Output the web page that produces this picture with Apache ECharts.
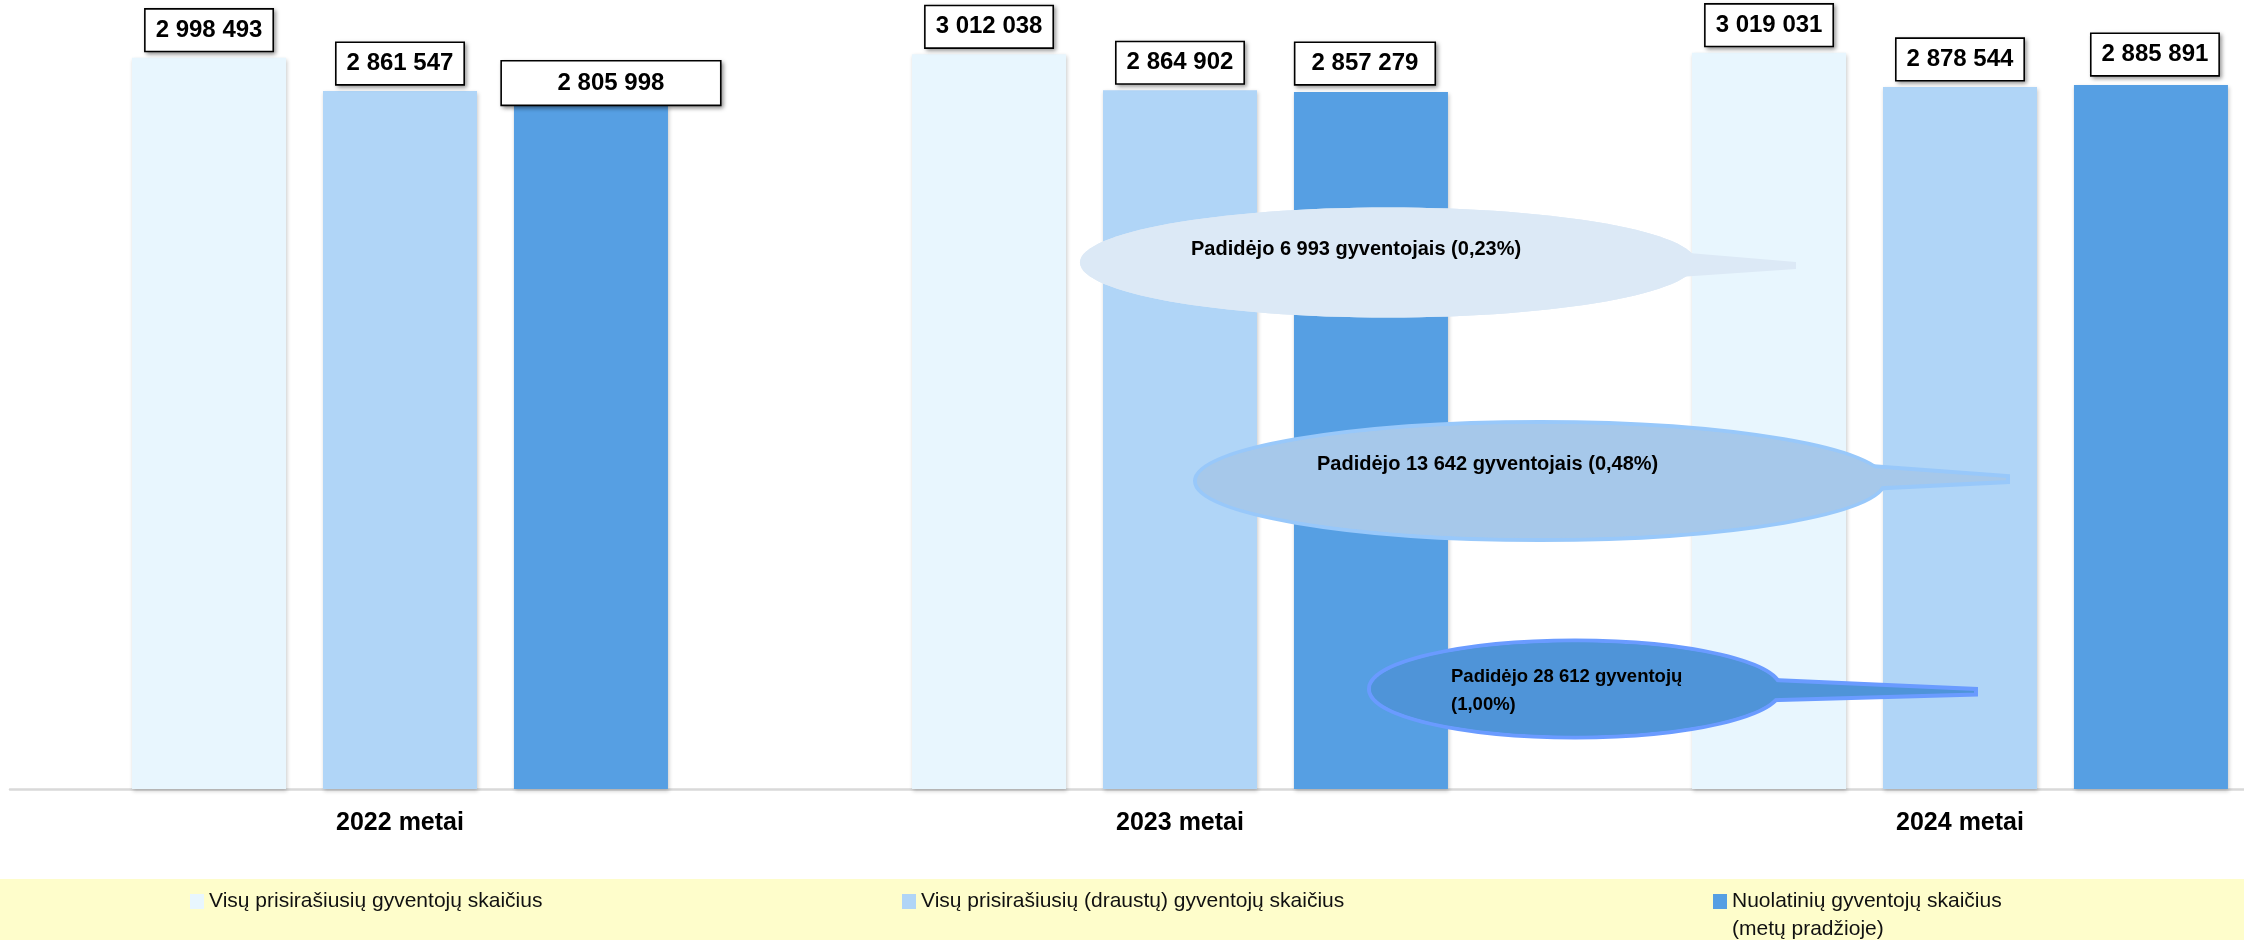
<!DOCTYPE html>
<html>
<head>
<meta charset="utf-8">
<script src="https://cdn.jsdelivr.net/npm/echarts@6/dist/echarts.min.js"></script>
<style>
  html, body { margin: 0; padding: 0; background: #ffffff; }
  #chart { width: 2244px; height: 940px; }
</style>
</head>
<body>
<div id="chart"></div>
<script>
// ---- data ----
const categories = ['2022 metai', '2023 metai', '2024 metai'];
const seriesNames = [
  'Visų prisirašiusių gyventojų skaičius',
  'Visų prisirašiusių (draustų) gyventojų skaičius',
  'Nuolatinių gyventojų skaičius'
];
const allRegistered = [2998493, 3012038, 3019031];
const insuredRegistered = [2861547, 2864902, 2878544];
const permanentResidents = [2805998, 2857279, 2885891];
const legendSecondLine = '(metų pradžioje)';
const calloutTexts = [
  'Padidėjo 6 993 gyventojais (0,23%)',
  'Padidėjo 13 642 gyventojais (0,48%)',
  'Padidėjo 28 612 gyventojų\n(1,00%)'
];

// ---- styling / layout ----
const FONT = '"Liberation Sans", Arial, sans-serif';
const barColors = ['#E8F6FE', '#B0D5F7', '#569FE3'];
const fmt = v => String(v).replace(/\B(?=(\d{3})+(?!\d))/g, ' ');

// label tweaks per series / data index (box layout only)
const labelTweaks = {
  2: {
    0: { width: 198, offset: [20, 0], distance: 0, padding: [7, 10] },
    1: { width: 119, offset: [-6, 0], distance: 8 },
    2: { offset: [4, 0], distance: 10 }
  }
};

const baseLabel = {
  show: true,
  position: 'top',
  distance: 7,
  formatter: p => fmt(p.value),
  fontFamily: FONT,
  fontSize: 24,
  fontWeight: 'bold',
  color: '#000',
  lineHeight: 29,
  align: 'center',
  backgroundColor: '#ffffff',
  borderColor: '#000000',
  borderWidth: 1.6,
  padding: [6, 10],
  shadowColor: 'rgba(0,0,0,0.35)',
  shadowBlur: 4,
  shadowOffsetX: 2,
  shadowOffsetY: 2
};

function buildSeries(idx, values) {
  return {
    name: seriesNames[idx],
    type: 'bar',
    barWidth: 154,
    barGap: '24%',
    itemStyle: {
      color: barColors[idx],
      shadowColor: 'rgba(0,0,0,0.22)',
      shadowBlur: 4,
      shadowOffsetX: 1,
      shadowOffsetY: 2
    },
    label: baseLabel,
    data: values.map((v, i) => {
      const t = (labelTweaks[idx] || {})[i];
      return t ? { value: v, label: Object.assign({}, t) } : v;
    })
  };
}

function callout(cx, cy, rx, ry, tail, fill, stroke, lw, textCfg) {
  const Z = 100;
  return [
    { type: 'ellipse', z: Z, shape: { cx, cy, rx, ry },
      style: { fill, stroke: stroke || fill, lineWidth: stroke ? lw : 0 } },
    { type: 'polygon', z: Z + 1, shape: { points: tail },
      style: { fill, stroke: stroke || fill, lineWidth: stroke ? lw : 0, lineJoin: 'miter' } },
    { type: 'ellipse', z: Z + 2, shape: { cx, cy, rx: rx - (stroke ? lw / 2 : 0), ry: ry - (stroke ? lw / 2 : 0) },
      style: { fill, lineWidth: 0 } },
    { type: 'text', z: Z + 3, style: Object.assign({
      fill: '#000', fontFamily: FONT, fontWeight: 'bold', verticalAlign: 'middle', align: 'left'
    }, textCfg) }
  ];
}

const legendBase = {
  orient: 'horizontal',
  selectedMode: false,
  icon: 'rect',
  itemWidth: 14,
  itemHeight: 15,
  padding: 0,
  z: 10,
  textStyle: { fontFamily: FONT, fontSize: 21, color: '#111', lineHeight: 28 }
};

const option = {
  backgroundColor: '#ffffff',
  animation: false,
  grid: { left: 10, width: 2340, top: 8.5, bottom: 151, containLabel: false, outerBoundsMode: 'none' },
  xAxis: {
    type: 'category',
    data: categories,
    axisLine: { lineStyle: { color: '#D9D9D9', width: 2.5 } },
    axisTick: { show: false },
    axisLabel: { fontFamily: FONT, fontSize: 25, fontWeight: 'bold', color: '#000', margin: 22 }
  },
  yAxis: {
    type: 'value', min: 0, max: 3200000, show: false, splitLine: { show: false }
  },
  legend: [
    Object.assign({}, legendBase, { left: 190, top: 887.5, data: [seriesNames[0]] }),
    Object.assign({}, legendBase, { left: 902, top: 887.5, data: [seriesNames[1]] }),
    Object.assign({}, legendBase, {
      left: 1713, top: 859.5, data: [seriesNames[2]],
      formatter: n => '\n' + n + '\n' + legendSecondLine
    })
  ],
  graphic: [
    { type: 'rect', z: 0, shape: { x: 0, y: 879, width: 2244, height: 61 },
      style: { fill: '#FEFDCB' }, silent: true }
  ].concat(
    callout(1388, 262.5, 308, 55, [[1650, 249.8], [1796, 262], [1796, 269], [1650, 279.1]],
      '#DCE9F6', null, 0, { text: calloutTexts[0], x: 1191, y: 249, fontSize: 20 }),
    callout(1540, 481, 345, 59, [[1850, 464.6], [2008, 476], [2008, 482], [1850, 489.8]],
      '#A6C8EA', '#98C8FA', 4, { text: calloutTexts[1], x: 1317, y: 464, fontSize: 20 }),
    callout(1575, 689, 206, 48.5, [[1745, 678.7], [1976, 689], [1976, 694.5], [1745, 700.9]],
      '#4F94D8', '#6A9BFF', 4, { text: calloutTexts[2], x: 1451, y: 691, fontSize: 18.5, lineHeight: 28 })
  ),
  series: [
    buildSeries(0, allRegistered),
    buildSeries(1, insuredRegistered),
    buildSeries(2, permanentResidents)
  ]
};

const chart = echarts.init(document.getElementById('chart'), null, { renderer: 'canvas' });
chart.setOption(option);
</script>
</body>
</html>
